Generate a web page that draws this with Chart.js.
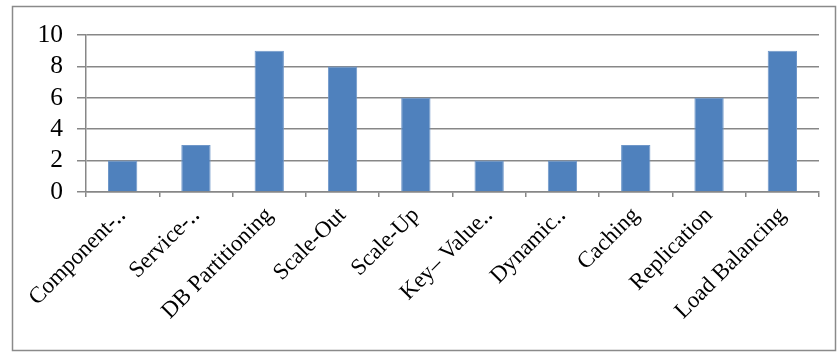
<!DOCTYPE html>
<html>
<head>
<meta charset="utf-8">
<script src="https://cdn.jsdelivr.net/npm/chart.js@4"></script>
<style>
  html, body { margin: 0; padding: 0; background: #fff; }
  #wrap { position: relative; width: 837px; height: 352px; }
</style>
</head>
<body>
<div id="wrap"><canvas id="c" width="837" height="352"></canvas></div>
<script>
// Bar chart of technique counts, Excel-2010 look: serif text, grey grid, framed area.

const categories = [
  "Component-‥", "Service-‥", "DB Partitioning", "Scale-Out", "Scale-Up",
  "Key– Value‥", "Dynamic‥", "Caching", "Replication", "Load Balancing"
];
const counts = [2, 3, 9, 8, 6, 2, 2, 3, 6, 9];
const yTicks = [0, 2, 4, 6, 8, 10];

const GRID = "#878787";
const SERIF = "'Liberation Serif', 'Times New Roman', serif";

// outer frame like the spreadsheet chart border
const framePlugin = {
  id: "frame",
  beforeDraw(chart) {
    const { ctx } = chart;
    ctx.save();
    ctx.fillStyle = "#fff";
    ctx.fillRect(0, 0, chart.width, chart.height);
    ctx.strokeStyle = "#8a8a8a";
    ctx.lineWidth = 1.5;
    ctx.strokeRect(12.5, 6.5, 823, 344);
    ctx.restore();
  }
};

new Chart(document.getElementById("c").getContext("2d"), {
  type: "bar",
  data: {
    labels: categories,
    datasets: [{
      data: counts,
      backgroundColor: "#4F81BD",
      borderColor: "#6f97c9",
      borderWidth: 1,
      categoryPercentage: 1,
      barPercentage: 0.4,
    }],
  },
  options: {
    responsive: false,
    animation: false,
    layout: { padding: { top: 35, right: 18, left: 12, bottom: 0 } },
    plugins: { legend: { display: false }, tooltip: { enabled: false } },
    scales: {
      x: {
        afterFit(scale) { scale.height = 160; },
        grid: {
          offset: true, drawOnChartArea: false, drawTicks: true,
          tickLength: 5, color: GRID, lineWidth: 1.5,
        },
        border: { display: true, color: GRID, width: 1.5 },
        ticks: {
          color: "#000", font: { family: SERIF, size: 23 },
          minRotation: 45, maxRotation: 45, autoSkip: false, padding: 5,
        },
      },
      y: {
        min: 0, max: 10,
        afterFit(scale) { scale.width = 74; },
        afterBuildTicks(scale) { scale.ticks = yTicks.map(v => ({ value: v })); },
        grid: { color: GRID, lineWidth: 1.5, tickLength: 9 },
        border: { display: true, color: GRID, width: 1.5 },
        ticks: {
          color: "#000", font: { family: SERIF, size: 25.5 },
          padding: 14, autoSkip: false,
        },
      },
    },
  },
  plugins: [framePlugin],
});
</script>
</body>
</html>
